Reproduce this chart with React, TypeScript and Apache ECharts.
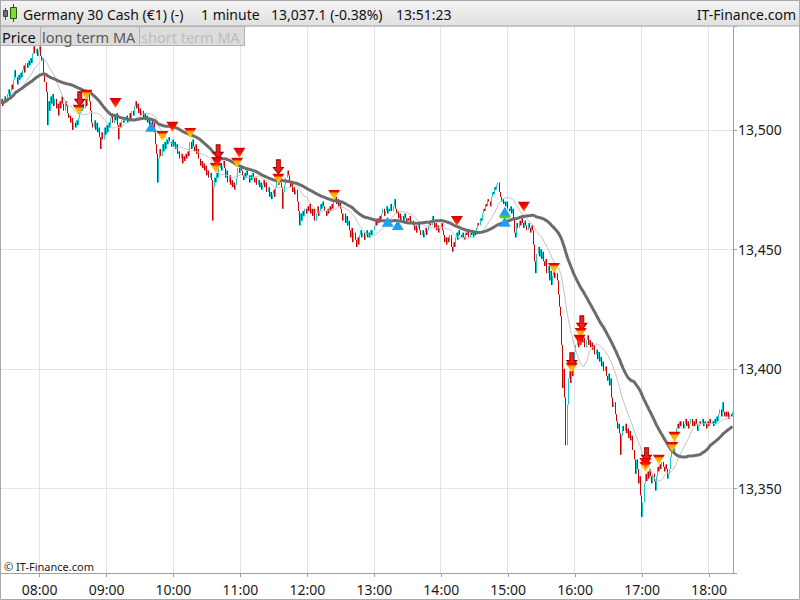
import React, { useEffect, useRef } from "react";
import * as echarts from "echarts";

// ---------- data ----------
const startMinute = 7 * 60 + 25; // first bar 07:25, 1-minute bars
const firstOpen = 13510;
const closes: number[] = [
  13511, 13513, 13510, 13512, 13514, 13512, 13515, 13517, 13514, 13516,
  13519, 13517, 13521, 13525, 13522, 13519, 13523, 13521, 13524, 13522,
  13525, 13527, 13524, 13528, 13526, 13529, 13527, 13530, 13528, 13532,
  13535, 13532, 13534, 13531, 13533, 13535, 13531, 13529, 13530, 13524,
  13520, 13516, 13502, 13512, 13508, 13514, 13511, 13515, 13510, 13513,
  13509, 13511, 13506, 13512, 13509, 13514, 13511, 13508, 13512, 13510,
  13507, 13505, 13506, 13503, 13505, 13500, 13503, 13501, 13504, 13502,
  13505, 13507, 13510, 13508, 13511, 13509, 13513, 13510, 13514, 13516,
  13512, 13508, 13503, 13501, 13504, 13500, 13503, 13499, 13501, 13497,
  13492, 13499, 13496, 13501, 13498, 13502, 13499, 13503, 13501, 13505,
  13507, 13503, 13506, 13504, 13507, 13502, 13496, 13503, 13501, 13504,
  13503, 13505, 13504, 13506, 13503, 13505, 13507, 13504, 13508, 13506,
  13510, 13512, 13509, 13511, 13507, 13509, 13506, 13508, 13505, 13507,
  13504, 13506, 13503, 13505, 13502, 13504, 13501, 13503, 13499, 13494,
  13490, 13478, 13488, 13492, 13489, 13494, 13491, 13495, 13492, 13496,
  13494, 13497, 13495, 13493, 13496, 13493, 13495, 13492, 13494, 13490,
  13491, 13488, 13490, 13486, 13489, 13487, 13490, 13488, 13491, 13489,
  13495, 13492, 13496, 13493, 13491, 13494, 13490, 13492, 13488, 13485,
  13487, 13484, 13486, 13483, 13485, 13481, 13483, 13480, 13482, 13479,
  13462, 13476, 13480, 13478, 13482, 13480, 13484, 13486, 13483, 13485,
  13487, 13484, 13480, 13483, 13478, 13481, 13477, 13479, 13476, 13478,
  13475, 13477, 13480, 13484, 13482, 13485, 13483, 13481, 13479, 13482,
  13480, 13483, 13481, 13478, 13481, 13479, 13482, 13480, 13478, 13480,
  13477, 13479, 13476, 13478, 13475, 13477, 13479, 13476, 13478, 13474,
  13476, 13472, 13474, 13471, 13473, 13475, 13472, 13476, 13479, 13477,
  13480, 13478, 13476, 13467, 13474, 13477, 13480, 13483, 13481, 13478,
  13476, 13478, 13474, 13476, 13473, 13475, 13470, 13466, 13460, 13465,
  13462, 13466, 13464, 13467, 13465, 13468, 13466, 13469, 13465, 13467,
  13464, 13467, 13462, 13465, 13468, 13464, 13466, 13469, 13467, 13470,
  13468, 13466, 13464, 13467, 13465, 13468, 13466, 13469, 13467, 13470,
  13472, 13469, 13471, 13468, 13470, 13467, 13465, 13462, 13465, 13461,
  13464, 13460, 13462, 13458, 13455, 13459, 13453, 13457, 13454, 13451,
  13455, 13452, 13456, 13458, 13455, 13457, 13454, 13456, 13458, 13455,
  13457, 13455, 13458, 13456, 13458, 13460, 13462, 13460, 13463, 13461,
  13464, 13462, 13465, 13467, 13464, 13466, 13468, 13465, 13467, 13466,
  13469, 13466, 13468, 13471, 13467, 13465, 13466, 13463, 13465, 13462,
  13464, 13461, 13465, 13463, 13461, 13463, 13462, 13464, 13461, 13462,
  13460, 13458, 13460, 13457, 13459, 13461, 13458, 13456, 13458, 13455,
  13457, 13459, 13456, 13458, 13460, 13462, 13460, 13464, 13462, 13459,
  13461, 13458, 13460, 13457, 13459, 13461, 13458, 13456, 13453, 13455,
  13452, 13455, 13453, 13456, 13451, 13449, 13453, 13451, 13455, 13457,
  13454, 13458, 13456, 13455, 13457, 13455, 13454, 13457, 13456, 13458,
  13455, 13457, 13456, 13458, 13455, 13457, 13456, 13459, 13461, 13460,
  13463, 13462, 13465, 13467, 13466, 13469, 13468, 13471, 13470, 13468,
  13472, 13474, 13473, 13476, 13475, 13477, 13478, 13474, 13472, 13470,
  13471, 13469, 13470, 13468, 13470, 13467, 13466, 13468, 13465, 13467,
  13463, 13457, 13455, 13461, 13459, 13462, 13460, 13463, 13461, 13459,
  13462, 13460, 13458, 13461, 13459, 13457, 13460, 13458, 13452, 13445,
  13440, 13448, 13451, 13447, 13450, 13446, 13449, 13445, 13443, 13446,
  13440, 13443, 13437, 13441, 13435, 13439, 13441, 13438, 13440, 13437,
  13431, 13426, 13422, 13410, 13392, 13400, 13388, 13368, 13385, 13396,
  13399, 13394, 13401, 13397, 13403, 13407, 13410, 13413, 13409, 13412,
  13410, 13414, 13411, 13413, 13409, 13412, 13414, 13410, 13412, 13409,
  13411, 13408, 13410, 13406, 13408, 13404, 13407, 13403, 13405, 13401,
  13403, 13399, 13401, 13397, 13395, 13398, 13393, 13396, 13388, 13384,
  13386, 13381, 13378, 13375, 13377, 13373, 13364, 13372, 13376, 13374,
  13377, 13373, 13375, 13371, 13374, 13370, 13372, 13366, 13362, 13356,
  13362, 13358, 13352, 13355, 13347, 13338, 13344, 13352, 13356, 13353,
  13357, 13354, 13358, 13355, 13352, 13356, 13353, 13349, 13355, 13359,
  13357, 13360, 13358, 13361, 13359, 13357, 13360, 13358, 13354, 13356,
  13358, 13363, 13367, 13365, 13370, 13373, 13375, 13377, 13375, 13378,
  13376, 13378, 13375, 13377, 13379, 13376, 13378, 13375, 13377, 13379,
  13376, 13378, 13376, 13379, 13377, 13374, 13376, 13378, 13377, 13379,
  13376, 13378, 13377, 13375, 13378, 13376, 13379, 13377, 13378, 13376,
  13379, 13377, 13380, 13378, 13381, 13383, 13380, 13386, 13382, 13380,
  13382, 13380, 13382, 13379, 13381, 13380, 13382,
];

const longMaPeriod = 60;
const shortMaPeriod = 20;

// signals: [time, price]
const sellYellow: [string, number][] = [
  ["08:35", 13508.4], ["08:42", 13514.7], ["09:50", 13497.5], ["10:15", 13498.7],
  ["10:38", 13484.1], ["10:57", 13486.2], ["11:34", 13479.5], ["12:24", 13472.8],
  ["15:41", 13442.2], ["16:05", 13415.0], ["15:57", 13400.4], ["17:03", 13358.9],
  ["17:15", 13361.9], ["17:27", 13367.3], ["17:29", 13371.5],
];
const sellRed: [string, number][] = [
  ["09:08", 13511.3], ["09:59", 13501.3], ["10:39", 13486.6], ["10:59", 13490.4],
  ["14:14", 13461.9], ["15:14", 13467.8], ["16:04", 13412.1], ["17:03", 13360.6],
];
const sellArrows: [string, number][] = [
  ["08:36", 13513.0], ["10:40", 13490.8], ["11:34", 13484.5],
  ["16:06", 13419.2], ["15:57", 13403.7], ["17:04", 13364.0],
];
const buySignals: [string, number][] = [
  ["09:40", 13501.3], ["13:12", 13461.5], ["13:21", 13460.2],
  ["14:57", 13465.7], ["14:57", 13461.5],
];
const flatSignals: [string, number][] = [["14:57", 13463.6]];

const yMin = 13314.5;
const yMax = 13543.5;

const headerTexts: [string, number][] = [
  ["Germany 30 Cash (€1) (-)", 23],
  ["1 minute", 201],
  ["13,037.1 (-0.38%)", 271],
  ["13:51:23", 396],
];
const siteName = "IT-Finance.com";
const copyright = "© IT-Finance.com";
const tabs: { label: string; x: number; w: number; color: string }[] = [
  { label: "Price", x: 0, w: 40, color: "#111111" },
  { label: "long term MA", x: 40, w: 99, color: "#585858" },
  { label: "short term MA", x: 139, w: 105, color: "#bcbcbc" },
];

// ---------- helpers ----------
const pad = (n: number) => String(n).padStart(2, "0");
const times = closes.map((_, i) => {
  const m = startMinute + i;
  return `${pad(Math.floor(m / 60))}:${pad(m % 60)}`;
});
const candles = closes.map((c, i) => {
  const o = i === 0 ? firstOpen : closes[i - 1];
  return [o, c, Math.min(o, c), Math.max(o, c)];
});
function sma(vals: number[], n: number) {
  return vals.map((_, i) => {
    const s = Math.max(0, i - n + 1);
    let sum = 0;
    for (let k = s; k <= i; k++) sum += vals[k];
    return +(sum / (i - s + 1)).toFixed(2);
  });
}
const isHour = (_i: number, v: string) => typeof v === "string" && v.slice(3) === "00";

const FONT = "Noto Sans";

function buildOption() {
  const LG = echarts.graphic.LinearGradient;
  const yellowFill = new LG(0, 0, 0, 1, [
    { offset: 0, color: "#e00000" },
    { offset: 0.22, color: "#e81000" },
    { offset: 0.3, color: "#ffa200" },
    { offset: 1, color: "#ffd400" },
  ]);
  const redFill = new LG(0, 0, 0, 1, [
    { offset: 0, color: "#d00000" },
    { offset: 0.6, color: "#ff1a00" },
    { offset: 1, color: "#ff8a00" },
  ]);
  const downTri = "path://M0,0L10,0L5,9Z";
  const upTri = "path://M5,0L10,9L0,9Z";
  const arrow = "path://M3,0L7,0L7,7L10,7L5,13L0,7L3,7Z";

  const graphic: any[] = [
    {
      type: "rect", z: 100,
      shape: { x: 0.5, y: 0.5, width: 799, height: 25.5 },
      style: {
        fill: new LG(0, 0, 0, 1, [
          { offset: 0, color: "#f4f4f4" },
          { offset: 1, color: "#e0e0e0" },
        ]),
        stroke: "#a8a8a8", lineWidth: 1,
      },
    },
    // icon
    { type: "line", z: 101, shape: { x1: 5.5, y1: 8, x2: 5.5, y2: 20 }, style: { stroke: "#555", lineWidth: 1 } },
    { type: "rect", z: 102, shape: { x: 3.5, y: 10.5, width: 4, height: 6 }, style: { fill: "#707070", stroke: "#404040", lineWidth: 1 } },
    { type: "line", z: 101, shape: { x1: 13.5, y1: 4, x2: 13.5, y2: 22 }, style: { stroke: "#2a5a00", lineWidth: 1 } },
    { type: "rect", z: 102, shape: { x: 10.5, y: 7.5, width: 6, height: 11 }, style: { fill: "#7fdc3a", stroke: "#2a5a00", lineWidth: 1 } },
    ...headerTexts.map(([t, x]) => ({
      type: "text", z: 103,
      style: { text: t, x, y: 14, fill: "#111111", fontSize: 14, fontFamily: FONT, verticalAlign: "middle", align: "left" },
    })),
    {
      type: "text", z: 103,
      style: { text: siteName, x: 796, y: 14, fill: "#111111", fontSize: 14, fontFamily: FONT, verticalAlign: "middle", align: "right" },
    },
    ...tabs.map((t) => ({
      type: "rect", z: 104,
      shape: { x: t.x + 0.5, y: 26.5, width: t.w, height: 19 },
      style: { fill: "#dcdcdc", stroke: "#b2b2b2", lineWidth: 1 },
    })),
    ...tabs.map((t) => ({
      type: "text", z: 105,
      style: { text: t.label, x: t.x + 2, y: 36.5, fill: t.color, fontSize: 14.5, fontFamily: FONT, verticalAlign: "middle", align: "left" },
    })),
    {
      type: "text", z: 103,
      style: { text: copyright, x: 4, y: 566.5, fill: "#1a1a1a", fontSize: 11, fontFamily: FONT, verticalAlign: "middle", align: "left" },
    },
    {
      type: "rect", z: 110, silent: true,
      shape: { x: 0.5, y: 0.5, width: 799, height: 599 },
      style: { fill: "none", stroke: "#a8a8a8", lineWidth: 1 },
    },
  ];

  return {
    animation: false,
    backgroundColor: "#ffffff",
    grid: { left: 0, right: 67, top: 26, bottom: 27, containLabel: false, outerBoundsMode: "none" },
    xAxis: {
      type: "category",
      data: times,
      boundaryGap: true,
      axisLine: { show: true, lineStyle: { color: "#a0a0a0", width: 1 } },
      axisTick: { show: true, length: 4, alignWithLabel: true, interval: isHour, lineStyle: { color: "#a0a0a0" } },
      axisLabel: { interval: isHour, color: "#1a1a1a", fontSize: 14, fontFamily: FONT, margin: 9 },
      splitLine: { show: true, interval: isHour, lineStyle: { color: "#e4e4e4", width: 1 } },
    },
    yAxis: {
      type: "value",
      position: "right",
      min: yMin,
      max: yMax,
      splitNumber: 4,
      axisLine: { show: true, lineStyle: { color: "#a0a0a0", width: 1 } },
      axisTick: { show: true, length: 4, lineStyle: { color: "#a0a0a0" } },
      axisLabel: {
        color: "#1a1a1a", fontSize: 14, fontFamily: FONT, margin: 5,
        formatter: (v: number) => (Math.abs(v % 50) < 1e-6 ? v.toLocaleString("en-US") : ""),
      },
      splitLine: { show: true, lineStyle: { color: "#e4e4e4", width: 1 } },
    },
    series: [
      {
        type: "candlestick",
        name: "Price",
        data: candles,
        large: false,
        barWidth: 0.6,
        itemStyle: {
          color: "#18c6cc", color0: "#cc0000",
          borderColor: "#18c6cc", borderColor0: "#cc0000",
          borderWidth: 1,
        },
        z: 2,
      },
      {
        type: "line", name: "short term MA", data: sma(closes, shortMaPeriod),
        showSymbol: false, symbol: "none", z: 3,
        lineStyle: { color: "#c0c0c0", width: 1 },
      },
      {
        type: "line", name: "long term MA", data: sma(closes, longMaPeriod),
        showSymbol: false, symbol: "none", z: 4,
        lineStyle: { color: "#6c6c6c", width: 3 },
      },
      {
        type: "scatter", data: sellArrows, symbol: arrow, symbolSize: [10, 14], z: 5,
        itemStyle: { color: "#ee1c1c", borderColor: "#a00000", borderWidth: 1, opacity: 1 },
      },
      {
        type: "scatter", data: sellYellow, symbol: downTri, symbolSize: [12, 10], z: 6,
        itemStyle: { color: yellowFill, opacity: 1 },
      },
      {
        type: "scatter", data: sellRed, symbol: downTri, symbolSize: [12, 10], z: 7,
        itemStyle: { color: redFill, opacity: 1 },
      },
      {
        type: "scatter", data: buySignals, symbol: upTri, symbolSize: [12, 10], z: 6,
        itemStyle: { color: "#1f9ff0", opacity: 1 },
      },
      {
        type: "scatter", data: flatSignals, symbol: "rect", symbolSize: [10, 3], z: 7,
        itemStyle: { color: "#3ed61e", opacity: 1 },
      },
    ],
    graphic,
  };
}

export default function App() {
  const ref = useRef<HTMLDivElement>(null);
  useEffect(() => {
    if (!ref.current) return;
    const chart = echarts.init(ref.current, null, { renderer: "svg" });
    chart.setOption(buildOption() as any);
    return () => chart.dispose();
  }, []);
  return (
    <div
      ref={ref}
      style={{ position: "fixed", left: 0, top: 0, width: 800, height: 600, background: "#fff" }}
    />
  );
}
